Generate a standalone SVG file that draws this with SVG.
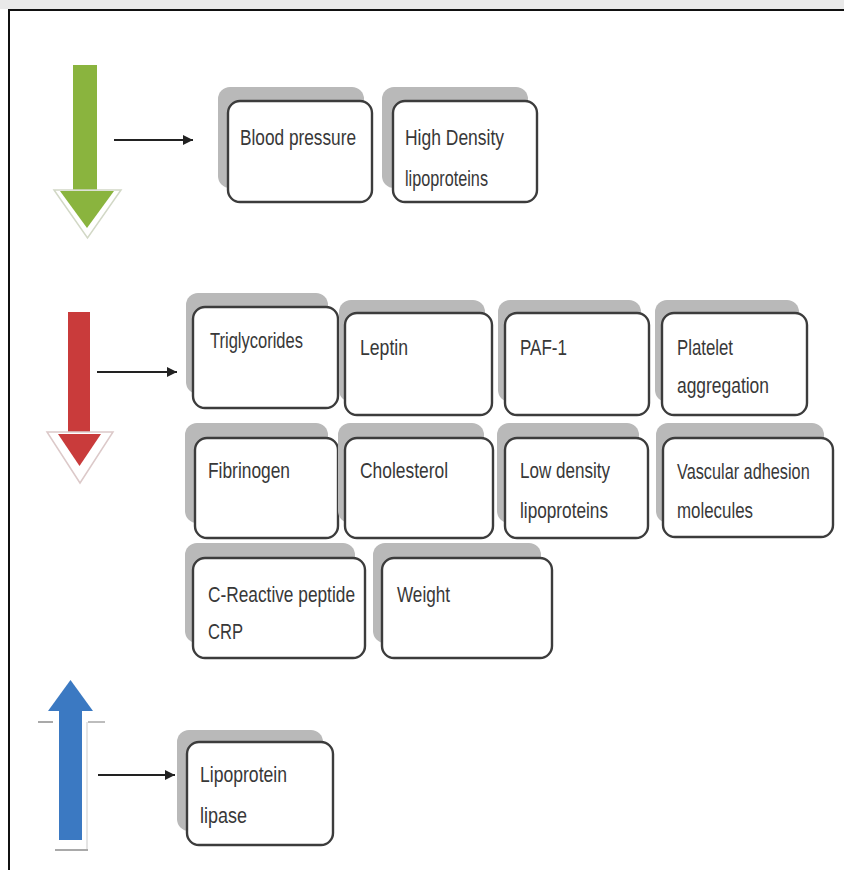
<svg xmlns="http://www.w3.org/2000/svg" width="844" height="870" viewBox="0 0 844 870">
<defs>
<style>
.sh{fill:#b9b9b9;}
.bx{fill:#ffffff;stroke:#3c3c3c;stroke-width:2.4;}
.t{font-family:"Liberation Sans",Arial,sans-serif;font-size:22px;fill:#383838;}
.cn{stroke:#222;stroke-width:2;fill:none;}
.pale{stroke:#a9a9a9;stroke-width:2;fill:none;}
</style>
<marker id="ah" viewBox="0 0 10 10" refX="10" refY="5" markerWidth="5" markerHeight="5" orient="auto" markerUnits="strokeWidth">
<path d="M0,0 L10,5 L0,10 z" fill="#222"/>
</marker>
</defs>
<rect x="0" y="0" width="844" height="870" fill="#ffffff"/>
<rect x="0" y="0" width="844" height="9" fill="#e9e9e9"/>
<line x1="8" y1="10" x2="844" y2="10" stroke="#111" stroke-width="2"/>
<line x1="9" y1="10" x2="9" y2="870" stroke="#111" stroke-width="2"/>

<g id="arrow-down-green">
<rect x="73" y="65" width="24" height="128" fill="#8ab43e"/>
<polygon points="54,190 121,190 87.5,238" fill="#ffffff" stroke="#d2d8c6" stroke-width="1.5"/>
<polygon points="60,191 114,191 87,228" fill="#8ab43e"/>
</g>
<g id="arrow-down-red">
<rect x="68" y="312" width="22" height="126" fill="#c93b3b"/>
<polygon points="47,432 113,432 80,483" fill="#ffffff" stroke="#dcc9c9" stroke-width="1.5"/>
<polygon points="58,434 101,434 79.5,466" fill="#c93b3b"/>
</g>
<g id="arrow-up-blue">
<rect x="59" y="706" width="23" height="134" fill="#3b79c2"/>
<polygon points="48,711 93,711 70.5,680" fill="#3b79c2"/>
<line class="pale" x1="38" y1="722" x2="53" y2="722"/>
<line x1="88" y1="722" x2="105" y2="722" stroke="#bdbdbd" stroke-width="2"/>
<line x1="87" y1="722" x2="87" y2="850" stroke="#dddddd" stroke-width="1.5"/>
<line class="pale" x1="55" y1="850" x2="88" y2="850"/>
</g>

<g id="connectors">
<line class="cn" x1="114" y1="140" x2="193" y2="140" marker-end="url(#ah)"/>
<line class="cn" x1="97" y1="372" x2="177" y2="372" marker-end="url(#ah)"/>
<line class="cn" x1="98" y1="775" x2="175" y2="775" marker-end="url(#ah)"/>
</g>

<g id="blood-pressure">
<rect class="sh" x="218" y="87" width="146" height="101" rx="12"/>
<rect class="bx" x="228" y="101" width="144" height="101" rx="12"/>
<text class="t" x="240" y="145" textLength="116" lengthAdjust="spacingAndGlyphs">Blood pressure</text>
</g>
<g id="hdl">
<rect class="sh" x="382" y="87" width="146" height="101" rx="12"/>
<rect class="bx" x="393" y="101" width="144" height="101" rx="12"/>
<text class="t" x="405" y="145" textLength="99" lengthAdjust="spacingAndGlyphs">High Density</text>
<text class="t" x="405" y="186" textLength="83" lengthAdjust="spacingAndGlyphs">lipoproteins</text>
</g>

<g id="triglycerides">
<rect class="sh" x="186" y="293" width="142" height="101" rx="12"/>
<rect class="bx" x="193" y="307" width="145" height="101" rx="12"/>
<text class="t" x="210" y="348" textLength="93" lengthAdjust="spacingAndGlyphs">Triglycorides</text>
</g>
<g id="leptin">
<rect class="sh" x="339" y="300" width="146" height="102" rx="12"/>
<rect class="bx" x="345" y="313" width="147" height="102" rx="12"/>
<text class="t" x="360" y="355" textLength="48" lengthAdjust="spacingAndGlyphs">Leptin</text>
</g>
<g id="paf1">
<rect class="sh" x="498" y="300" width="143" height="102" rx="12"/>
<rect class="bx" x="505" y="313" width="144" height="102" rx="12"/>
<text class="t" x="520" y="355" textLength="47" lengthAdjust="spacingAndGlyphs">PAF-1</text>
</g>
<g id="platelet">
<rect class="sh" x="655" y="300" width="144" height="102" rx="12"/>
<rect class="bx" x="662" y="313" width="145" height="102" rx="12"/>
<text class="t" x="677" y="355" textLength="56" lengthAdjust="spacingAndGlyphs">Platelet</text>
<text class="t" x="677" y="393" textLength="92" lengthAdjust="spacingAndGlyphs">aggregation</text>
</g>

<g id="fibrinogen">
<rect class="sh" x="185" y="423" width="143" height="100" rx="12"/>
<rect class="bx" x="195" y="438" width="143" height="100" rx="12"/>
<text class="t" x="208" y="478" textLength="82" lengthAdjust="spacingAndGlyphs">Fibrinogen</text>
</g>
<g id="cholesterol">
<rect class="sh" x="338" y="423" width="146" height="100" rx="12"/>
<rect class="bx" x="345" y="438" width="148" height="100" rx="12"/>
<text class="t" x="360" y="478" textLength="88" lengthAdjust="spacingAndGlyphs">Cholesterol</text>
</g>
<g id="ldl">
<rect class="sh" x="497" y="423" width="142" height="100" rx="12"/>
<rect class="bx" x="505" y="438" width="143" height="100" rx="12"/>
<text class="t" x="520" y="478" textLength="90" lengthAdjust="spacingAndGlyphs">Low density</text>
<text class="t" x="520" y="518" textLength="88" lengthAdjust="spacingAndGlyphs">lipoproteins</text>
</g>
<g id="vascular">
<rect class="sh" x="656" y="423" width="168" height="100" rx="12"/>
<rect class="bx" x="663" y="438" width="170" height="99" rx="12"/>
<text class="t" transform="translate(677 479) scale(0.74 1)" x="0" y="0">Vascular adhesion</text>
<text class="t" x="677" y="518" textLength="76" lengthAdjust="spacingAndGlyphs">molecules</text>
</g>

<g id="crp">
<rect class="sh" x="185" y="543" width="170" height="100" rx="12"/>
<rect class="bx" x="193" y="558" width="172" height="100" rx="12"/>
<text class="t" x="208" y="602" textLength="147" lengthAdjust="spacingAndGlyphs">C-Reactive peptide</text>
<text class="t" x="208" y="639" textLength="35" lengthAdjust="spacingAndGlyphs">CRP</text>
</g>
<g id="weight">
<rect class="sh" x="373" y="543" width="168" height="100" rx="12"/>
<rect class="bx" x="382" y="558" width="170" height="100" rx="12"/>
<text class="t" x="397" y="602" textLength="53" lengthAdjust="spacingAndGlyphs">Weight</text>
</g>

<g id="lipoprotein-lipase">
<rect class="sh" x="177" y="730" width="146" height="101" rx="12"/>
<rect class="bx" x="187" y="742" width="146" height="103" rx="12"/>
<text class="t" x="200" y="782" textLength="87" lengthAdjust="spacingAndGlyphs">Lipoprotein</text>
<text class="t" x="200" y="823" textLength="47" lengthAdjust="spacingAndGlyphs">lipase</text>
</g>
</svg>
